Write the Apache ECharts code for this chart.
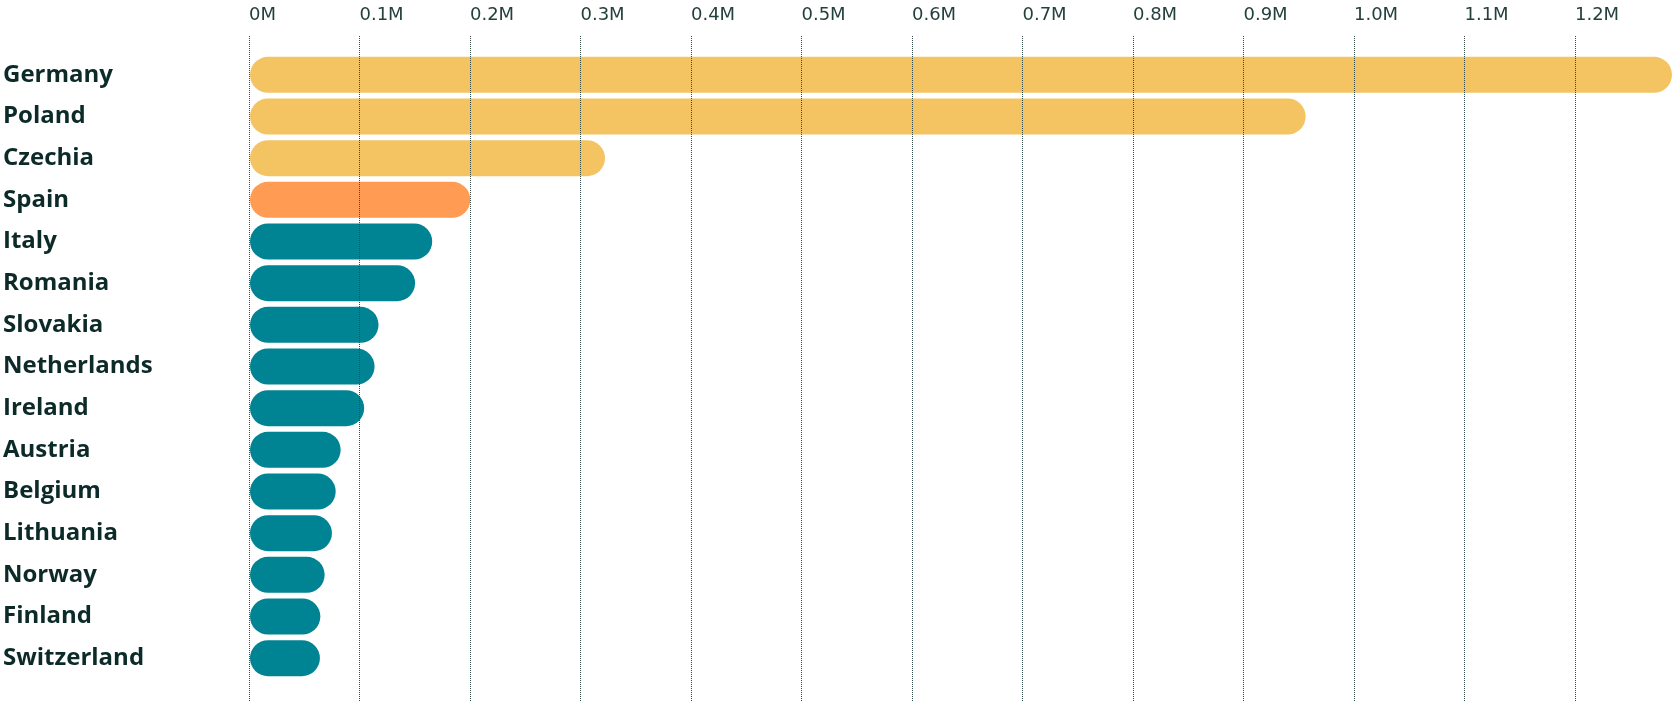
<!DOCTYPE html>
<html>
<head>
<meta charset="utf-8">
<script src="https://cdn.jsdelivr.net/npm/echarts@6/dist/echarts.min.js"></script>
<style>
html,body{margin:0;padding:0;background:#fff;}
#c{width:1675px;height:704px;}
</style>
</head>
<body>
<div id="c"></div>
<script>
// ---- data ----
const countries = ["Germany","Poland","Czechia","Spain","Italy","Romania","Slovakia","Netherlands","Ireland","Austria","Belgium","Lithuania","Norway","Finland","Switzerland"];
const values = [1287800, 956000, 321500, 199500, 165000, 149500, 116400, 112800, 103400, 82100, 77600, 74200, 67600, 63700, 63300];
const tickMax = 1200000;
const tickStep = 100000;

// ---- layout ----
const W = 1675;
const left = 249, barRight = 3;
const plotW = W - left - barRight;
const dataMax = Math.max(...values);
const lineRight = W - (left + plotW * tickMax / dataMax);

const YELLOW = '#F4C462', ORANGE = '#FF9B52', TEAL = '#008393';
function colorFor(i){ return i < 3 ? YELLOW : (i === 3 ? ORANGE : TEAL); }

const chart = echarts.init(document.getElementById('c'), null, {renderer:'canvas'});
chart.setOption({
  animation:false,
  backgroundColor:'#ffffff',
  grid:[
    {left:left, right:lineRight, top:36, bottom:2, containLabel:false},
    {left:left, right:barRight, top:54, bottom:25, containLabel:false}
  ],
  xAxis:[
    {gridIndex:0, type:'value', position:'top', min:0, max:tickMax, interval:tickStep, z:10,
     axisLine:{show:false}, axisTick:{show:false},
     axisLabel:{align:'left', margin:12, color:'#24403d', fontFamily:'DejaVu Sans', fontSize:18, fontWeight:'normal',
       formatter:function(v){ return v === 0 ? '0M' : (v/1e6).toFixed(1) + 'M'; }},
     splitLine:{show:true, lineStyle:{color:'#334a48', type:[1,1], width:1}}
    },
    {gridIndex:1, type:'value', min:0, max:dataMax, show:false, splitLine:{show:false}}
  ],
  yAxis:[
    {gridIndex:0, type:'value', min:0, max:1, show:false},
    {gridIndex:1, type:'category', data:countries, inverse:true,
     axisLine:{show:false}, axisTick:{show:false}, splitLine:{show:false},
     axisLabel:{align:'left', margin:left-2, color:'#0b2a28', fontFamily:'Open Sans', fontWeight:700, fontSize:24}
    }
  ],
  series:[
    {type:'bar', xAxisIndex:1, yAxisIndex:1, barWidth:36, z:2,
     data: values.map((v,i)=>({value:v, itemStyle:{color:colorFor(i), borderRadius:18}}))
    }
  ]
});
</script>
</body>
</html>
